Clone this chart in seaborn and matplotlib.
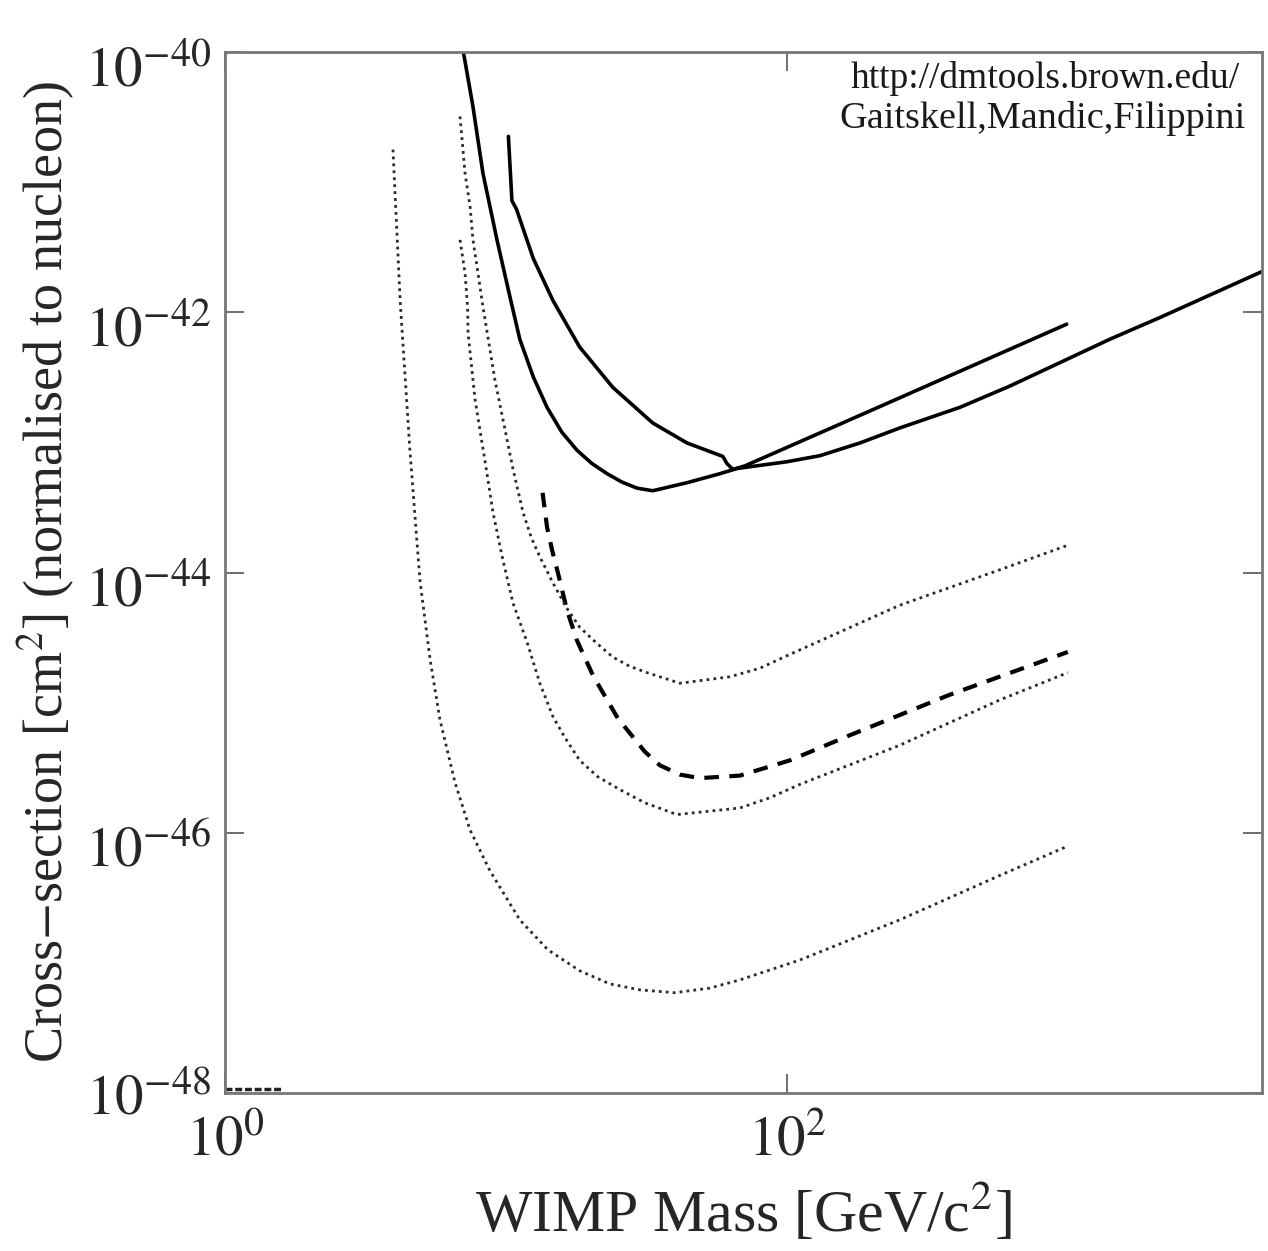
import numpy as np
import pandas as pd
import matplotlib
matplotlib.use("Agg")
import matplotlib.pyplot as plt
import matplotlib.transforms as mtransforms
import seaborn as sns

# -------------------- Curve data --------------------

# long solid limit curve
solid1_mass = [7.0, 7.63, 8.28, 9.29, 10.2, 11.2, 12.5, 14.0, 15.8, 17.9, 20.2,
               22.9, 25.9, 29.3, 33.3, 44.1, 57.8, 66.4, 100, 131, 182, 252,
               413, 622, 937, 1410, 2125, 4900]
solid1_xsec = [1.1e-40, 3.8e-41, 1.17e-41, 3.6e-42, 1.48e-42, 6.2e-43, 3.2e-43,
               1.86e-43, 1.2e-43, 8.7e-44, 6.9e-44, 5.75e-44, 4.95e-44, 4.45e-44,
               4.25e-44, 4.9e-44, 5.75e-44, 6.3e-44, 7.1e-44, 7.9e-44, 9.9e-44,
               1.29e-43, 1.86e-43, 2.71e-43, 4.1e-43, 6.2e-43, 9.1e-43, 2.05e-42]

# shorter solid curve (ends at 1 TeV)
solid2_mass = [10.2, 10.5, 10.9, 12.5, 14.7, 18.3, 24.0, 33.3, 44.1, 59.2, 61.1,
               64.2, 70.9, 197, 991]
solid2_xsec = [2.25e-41, 7.2e-42, 6.2e-42, 2.6e-42, 1.23e-42, 5.4e-43, 2.65e-43,
               1.41e-43, 9.9e-44, 7.8e-44, 6.9e-44, 6.2e-44, 6.6e-44, 1.74e-43,
               8.1e-43]

# dashed projection
dashed_mass = [13.5, 14.0, 14.6, 15.3, 16.5, 17.9, 20.4, 22.9, 25.0, 31.2, 35.3,
               41.6, 49.0, 68.0, 102.5, 167, 380, 1000]
dashed_xsec = [4.1e-44, 2.24e-44, 1.48e-44, 1.0e-44, 5.1e-45, 3.0e-45, 1.62e-45,
               1.05e-45, 7.6e-46, 4.2e-46, 3.3e-46, 2.8e-46, 2.63e-46, 2.75e-46,
               3.6e-46, 5.6e-46, 1.15e-45, 2.45e-45]

# dotted projections
dot_hi_mass = [6.86, 7.15, 7.45, 7.63, 7.95, 8.28, 9.14, 10.6, 11.5, 12.3, 13.2,
               14.7, 16.4, 18.3, 20.9, 24.0, 27.6, 31.8, 41.6, 62.7, 80.2, 102.5,
               252, 573, 1000]
dot_hi_xsec = [3.2e-41, 1.17e-41, 6.5e-42, 3.6e-42, 2.0e-42, 1.1e-42, 3.0e-43,
               6.2e-44, 2.9e-44, 1.86e-44, 1.32e-44, 8.3e-45, 5.4e-45, 3.8e-45,
               2.9e-45, 2.24e-45, 1.9e-45, 1.7e-45, 1.41e-45, 1.58e-45, 1.84e-45,
               2.35e-45, 5.6e-45, 1.05e-44, 1.62e-44]

dot_mid_mass = [6.86, 7.15, 7.30, 7.33, 7.76, 8.56, 8.99, 9.75, 10.6, 11.9, 13.2,
                14.7, 16.2, 18.3, 21.2, 25.5, 31.2, 40.6, 68.0, 87.1, 111, 252,
                573, 1000]
dot_mid_xsec = [3.6e-42, 2.0e-42, 1.1e-42, 6.9e-43, 2.14e-43, 5.75e-44, 2.9e-44,
                1.25e-44, 5.8e-45, 2.9e-45, 1.41e-45, 7.8e-46, 5.4e-46, 3.6e-46,
                2.7e-46, 2.14e-46, 1.7e-46, 1.38e-46, 1.55e-46, 1.86e-46,
                2.35e-46, 4.7e-46, 1.05e-45, 1.7e-45]

dot_lo_mass = [3.96, 4.2, 4.55, 4.94, 5.37, 5.82, 6.58, 7.45, 8.77, 11.2, 14.1,
               18.3, 23.4, 30.0, 39.9, 53.2, 68, 111, 252, 573, 1000]
dot_lo_xsec = [1.78e-41, 1.23e-42, 8.7e-44, 8.7e-45, 2.14e-45, 7.4e-46, 2.45e-46,
               1.05e-46, 5.1e-47, 2.14e-47, 1.26e-47, 8.7e-48, 6.9e-48, 6.2e-48,
               5.9e-48, 6.4e-48, 7.4e-48, 1.05e-47, 2.14e-47, 4.7e-47, 7.9e-47]

# short stub sitting on the bottom axis
stub_mass = [1.0, 1.6]
stub_xsec = [1.08e-48, 1.08e-48]

credit_lines = ["http://dmtools.brown.edu/", "Gaitskell,Mandic,Filippini"]

# -------------------- Plotting --------------------

sns.set_style("ticks")
plt.rcParams["font.family"] = ["Liberation Serif", "DejaVu Serif"]
plt.rcParams["mathtext.fontset"] = "stix"

fig = plt.figure(figsize=(12.68, 12.51), dpi=100)
ax = fig.add_axes([0.1775, 0.1263, 0.8175, 0.8321])

def draw(mass, xsec, **kw):
    df = pd.DataFrame({"mass": mass, "xsec": xsec})
    sns.lineplot(data=df, x="mass", y="xsec", sort=False, estimator=None,
                 ax=ax, legend=False, **kw)

ax.set_xscale("log")
ax.set_yscale("log")

draw(solid1_mass, solid1_xsec, color="black", linewidth=2.6)
draw(solid2_mass, solid2_xsec, color="black", linewidth=2.6)
draw(dashed_mass, dashed_xsec, color="black", linewidth=3.0, linestyle=(0, (3.5, 2.5)))
for m, s in [(dot_hi_mass, dot_hi_xsec), (dot_mid_mass, dot_mid_xsec), (dot_lo_mass, dot_lo_xsec)]:
    draw(m, s, color="#2a2a2a", linewidth=2.0, linestyle=(0, (1, 1.5)))
draw(stub_mass, stub_xsec, color="#222222", linewidth=2.5, linestyle=(0, (2, 0.8)))

ax.set_xlim(1, 4900)
ax.set_ylim(1e-48, 1e-40)

ax.set_xticks([1, 100])
ax.set_xticklabels([r"$10^{0}$", r"$10^{2}$"])
ax.set_yticks([1e-48, 1e-46, 1e-44, 1e-42, 1e-40])
ax.set_yticklabels([r"$10^{-48}$", r"$10^{-46}$", r"$10^{-44}$", r"$10^{-42}$", r"$10^{-40}$"])
ax.minorticks_off()
ax.tick_params(which="major", direction="in", length=14, width=1.2, labelsize=41,
               top=True, right=True, color="#555555")
ax.tick_params(axis="x", pad=16)
ax.tick_params(axis="y", pad=10)

# the reference sets the y labels a little below their ticks
shift = mtransforms.ScaledTranslation(0, -0.13, fig.dpi_scale_trans)
for lab in ax.get_yticklabels()[1:]:
    lab.set_transform(lab.get_transform() + shift)

for sp in ax.spines.values():
    sp.set_linewidth(2)
    sp.set_color("#777777")

ax.set_xlabel(r"WIMP Mass [GeV/c$^{2}$]", fontsize=43, labelpad=10)
ax.set_ylabel(r"Cross$-$section [cm$^{2}$] (normalised to nucleon)", fontsize=39, labelpad=6)

ax.text(0.603, 0.975, credit_lines[0], transform=ax.transAxes, fontsize=27,
        ha="left", va="center", color="#1a1a1a")
ax.text(0.593, 0.936, credit_lines[1], transform=ax.transAxes, fontsize=27.5,
        ha="left", va="center", color="#1a1a1a", clip_on=True)

fig.savefig("out.png", dpi=100, facecolor="white")
